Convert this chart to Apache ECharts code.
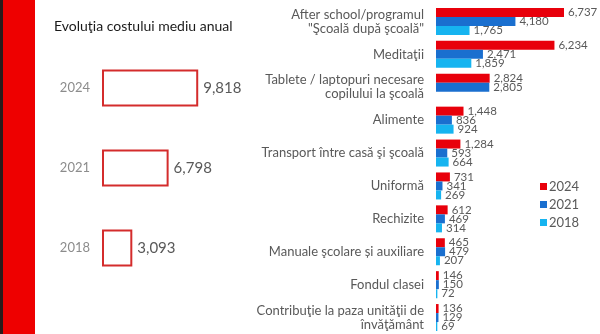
<!DOCTYPE html>
<html>
<head>
<meta charset="utf-8">
<style>
  html, body { margin: 0; padding: 0; background: #ffffff; }
  #chart { width: 600px; height: 334px; }
</style>
<script src="https://cdn.jsdelivr.net/npm/echarts@6/dist/echarts.min.js"></script>
</head>
<body>
<div id="chart"></div>
<script>
// Average annual cost per year (summary boxes)
const totalYears = ['2018', '2021', '2024'];
const totalValues = [3093, 6798, 9818];

// Cost breakdown per category
const categories = [
  'After school/programul\n"Şcoală după şcoală"',
  'Meditaţii',
  'Tablete / laptopuri necesare\ncopilului la şcoală',
  'Alimente',
  'Transport între casă şi şcoală',
  'Uniformă',
  'Rechizite',
  'Manuale şcolare și auxiliare',
  'Fondul clasei',
  'Contribuţie la paza unităţii de\nînvăţământ'
];
const values2024 = [6737, 6234, 2824, 1448, 1284, 731, 612, 465, 146, 136];
const values2021 = [4180, 2471, 2805, 836, 593, 341, 469, 479, 150, 129];
const values2018 = [1765, 1859, null, 924, 664, 269, 314, 207, 72, 69];

const FONT = 'Lato, "Noto Sans", sans-serif';
const fmt = v => Number(v).toLocaleString('en-US');

const chart = echarts.init(document.getElementById('chart'), null, { renderer: 'canvas' });

function breakdownSeries(name, data, color) {
  return {
    name: name,
    type: 'bar',
    xAxisIndex: 1,
    yAxisIndex: 1,
    data: data,
    barWidth: 9,
    barGap: '0%',
    itemStyle: { color: color },
    label: {
      show: true,
      position: 'right',
      distance: 4,
      color: '#595959',
      fontFamily: FONT,
      fontSize: 11.5,
      formatter: p => fmt(p.value)
    }
  };
}

chart.setOption({
  animation: false,
  title: {
    text: 'Evoluţia costului mediu anual',
    left: 54,
    top: 19,
    padding: 0,
    textStyle: { fontFamily: FONT, fontSize: 14, fontWeight: 'normal', color: '#1a1a1a' }
  },
  graphic: [
    { type: 'rect', shape: { x: 0, y: 0, width: 3, height: 334 }, style: { fill: '#2a1a1a' }, silent: true },
    { type: 'rect', shape: { x: 3, y: 0, width: 32, height: 334 }, style: { fill: '#ee0000' }, silent: true }
  ],
  legend: {
    orient: 'vertical',
    left: 535,
    top: 175,
    itemWidth: 7,
    itemHeight: 7,
    itemGap: 5,
    icon: 'rect',
    data: ['2024', '2021', '2018'],
    textStyle: { fontFamily: FONT, fontSize: 13, color: '#595959', padding: [0, 0, 0, -3] }
  },
  grid: [
    { left: 102, top: 48, width: 98, height: 240, containLabel: false },
    { left: 436, top: 5, width: 133, height: 333, containLabel: false }
  ],
  xAxis: [
    { gridIndex: 0, type: 'value', min: 0, max: 10000, show: false },
    { gridIndex: 1, type: 'value', min: 0, max: 7000, show: false }
  ],
  yAxis: [
    {
      gridIndex: 0,
      type: 'category',
      data: totalYears,
      axisLine: { show: false },
      axisTick: { show: false },
      axisLabel: { margin: 12, color: '#8c8c8c', fontFamily: FONT, fontSize: 13 }
    },
    {
      gridIndex: 1,
      type: 'category',
      inverse: true,
      data: categories,
      axisLine: { show: false },
      axisTick: { show: false },
      axisLabel: {
        margin: 12,
        color: '#595959',
        fontFamily: FONT,
        fontSize: 13,
        lineHeight: 14,
        align: 'right'
      }
    }
  ],
  series: [
    {
      name: 'total',
      type: 'bar',
      xAxisIndex: 0,
      yAxisIndex: 0,
      data: totalValues,
      barWidth: 37,
      itemStyle: { color: 'rgba(255,255,255,0)', borderColor: '#d42c2c', borderWidth: 2 },
      label: {
        show: true,
        position: 'right',
        distance: 5,
        color: '#595959',
        fontFamily: FONT,
        fontSize: 15,
        formatter: p => fmt(p.value)
      },
      legendHoverLink: false
    },
    breakdownSeries('2024', values2024, '#e8000b'),
    breakdownSeries('2021', values2021, '#1a6fcf'),
    breakdownSeries('2018', values2018, '#16b4f0')
  ]
});
</script>
</body>
</html>
